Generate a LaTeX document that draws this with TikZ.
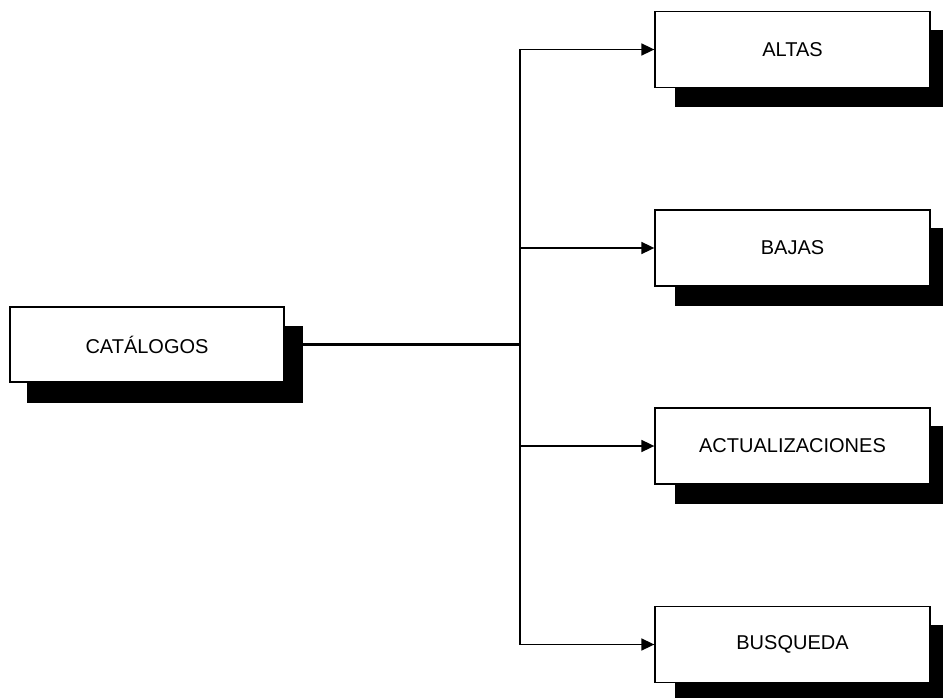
\documentclass[tikz,border=0pt]{standalone}
\usepackage{fontspec}
\setmainfont{Liberation Sans}
\usetikzlibrary{arrows.meta}
\pgfdeclarelayer{bg}
\pgfdeclarelayer{sh}
\pgfsetlayers{bg,sh,main}
\begin{document}
\begin{tikzpicture}[x=1pt,y=-1pt,
  box/.style={draw=black,line width=1.3pt,fill=white,minimum width=275pt,minimum height=76pt,inner sep=0pt,font=\fontsize{20}{24}\selectfont},
  arr/.style={line width=1.7pt,-{Triangle[length=13pt,width=12pt]}}]
\useasboundingbox (0,0) rectangle (943,698);
\clip (0,0) rectangle (943,698);
\node[box,minimum width=274pt,minimum height=75pt] (cat) at (147,344.5) {CATÁLOGOS};
\node[box] (altas) at (792.5,49.5) {ALTAS};
\node[box] (bajas) at (792.5,248) {BAJAS};
\node[box] (act) at (792.5,446) {ACTUALIZACIONES};
\node[box] (busq) at (792.5,644.5) {BUSQUEDA};
\coordinate (j) at (520,344.5);
\begin{pgfonlayer}{sh}
\fill[black] ([shift={(18,20)}]cat.north west) rectangle ([shift={(18,20)}]cat.south east);
\foreach \n in {altas,bajas,act,busq}
  \fill[black] ([shift={(21,19)}]\n.north west) rectangle ([shift={(21,19)}]\n.south east);
\end{pgfonlayer}
\begin{pgfonlayer}{bg}
\draw[line width=2.2pt] (cat.east) -- (j);
\draw[arr] (j) |- (altas.west);
\draw[arr] (j) |- (bajas.west);
\draw[arr] (j) |- (act.west);
\draw[arr] (j) |- (busq.west);
\end{pgfonlayer}
\end{tikzpicture}
\end{document}
